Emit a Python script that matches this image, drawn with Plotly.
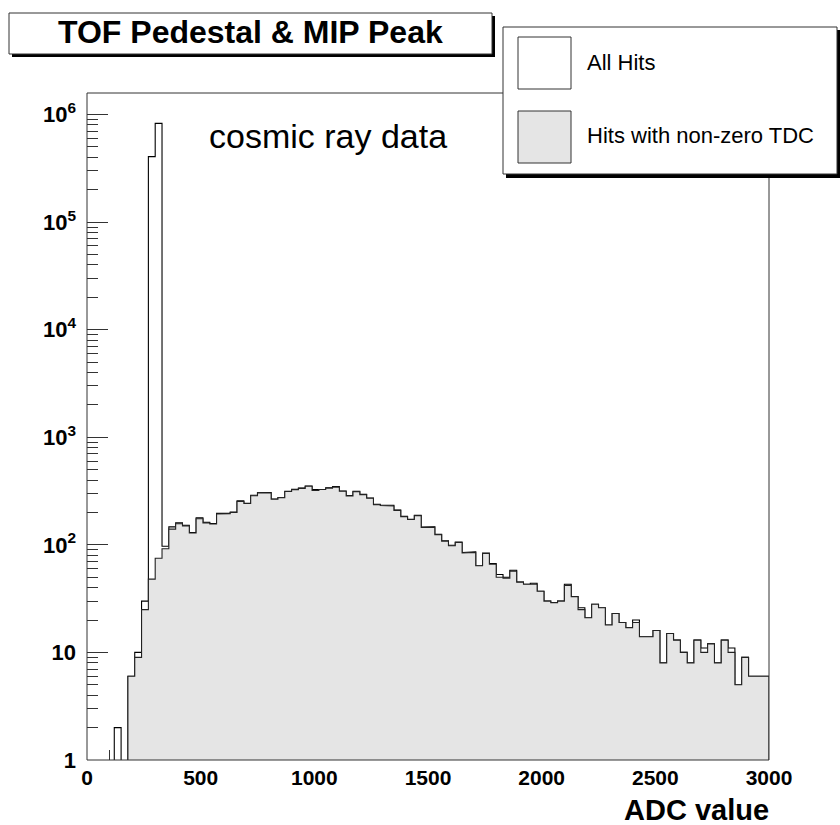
import plotly.graph_objects as go

# ---------------- data ----------------
BIN_WIDTH = 30
X_MIN, X_MAX = 0, 3000

# bin contents, bins of width 30 starting at 0 (100 bins)
all_hits = [
    0, 0, 0, 0, 2, 0, 6, 10, 30, 406000,
    827000, 97, 147, 160, 152, 130, 178, 162, 158, 196,
    196, 202, 256, 243, 289, 306, 306, 267, 275, 315,
    328, 337, 352, 326, 328, 339, 348, 316, 287, 314,
    295, 272, 238, 233, 233, 210, 184, 173, 188, 146,
    147, 125, 109, 99, 106, 85, 86, 64, 84, 67,
    53, 50, 58, 45, 43, 44, 37, 30, 29, 30,
    43, 33, 26, 21, 28, 26, 18, 23, 19, 17,
    20, 14, 14, 16, 8, 15, 13, 10, 8, 13,
    11, 12, 8, 13, 11, 5, 9, 6, 6, 6,
]
tdc_hits = [
    0, 0, 0, 0, 0, 0, 6, 9, 25, 48,
    75, 92, 140, 157, 150, 129, 175, 160, 156, 194,
    195, 200, 253, 242, 286, 305, 304, 265, 274, 313,
    326, 335, 350, 320, 327, 337, 344, 315, 285, 312,
    293, 271, 236, 232, 230, 209, 183, 172, 187, 145,
    146, 124, 108, 98, 105, 84, 85, 64, 83, 66,
    50, 49, 57, 45, 43, 43, 37, 30, 29, 30,
    42, 33, 25, 21, 28, 26, 18, 23, 19, 17,
    19, 14, 14, 16, 8, 15, 13, 10, 8, 13,
    10, 12, 8, 13, 10, 5, 9, 6, 6, 6,
]

x_tick_vals = [0, 500, 1000, 1500, 2000, 2500, 3000]
y_tick_vals = [1, 10, 100, 1000, 10000, 100000, 1000000]
y_tick_text = ["1", "10", "10<sup>2</sup>", "10<sup>3</sup>", "10<sup>4</sup>",
               "10<sup>5</sup>", "10<sup>6</sup>"]

TITLE = "TOF Pedestal & MIP Peak"
X_TITLE = "ADC value"
NOTE = "cosmic ray data"
LEG_NAMES = ["All Hits", "Hits with non-zero TDC"]

# ---------------- layout geometry ----------------
W, H = 840, 825
L, R, T, B = 87, 769, 93, 760
FONT = "Liberation Sans"
LINE = "#333333"
GREY = "#e5e5e5"


def px(x):
    return (x - L) / (R - L)


def py(y):
    return (B - y) / (B - T)


def step_path(values):
    floor = 0.1
    xs, ys = [X_MIN], [floor]
    for i, v in enumerate(values):
        lo = X_MIN + i * BIN_WIDTH
        hi = lo + BIN_WIDTH
        h = v if v > 0 else floor
        xs += [lo, hi]
        ys += [h, h]
    xs.append(X_MAX)
    ys.append(floor)
    return xs, ys


fig = go.Figure()
ax, ay = step_path(all_hits)
fig.add_trace(go.Scatter(x=ax, y=ay, mode="lines", fill="toself", fillcolor="white",
                         line=dict(color="#000000", width=1.1), name=LEG_NAMES[0],
                         hoverinfo="skip"))
gx, gy = step_path(tdc_hits)
fig.add_trace(go.Scatter(x=gx, y=gy, mode="lines", fill="toself", fillcolor=GREY,
                         line=dict(color="#222222", width=1.1), name=LEG_NAMES[1],
                         hoverinfo="skip"))

shapes = []
# plot frame
shapes.append(dict(type="rect", xref="paper", yref="paper", x0=0, x1=1, y0=0, y1=1,
                   line=dict(color=LINE, width=1), fillcolor="rgba(0,0,0,0)", layer="above"))
# title box with shadow
shapes.append(dict(type="rect", xref="paper", yref="paper", x0=px(12), x1=px(495),
                   y0=py(57), y1=py(16), line=dict(width=0), fillcolor="black", layer="above"))
shapes.append(dict(type="rect", xref="paper", yref="paper", x0=px(9), x1=px(492),
                   y0=py(54), y1=py(13), line=dict(color=LINE, width=1), fillcolor="white",
                   layer="above"))
# legend box with shadow
shapes.append(dict(type="rect", xref="paper", yref="paper", x0=px(506), x1=px(841),
                   y0=py(178), y1=py(30), line=dict(width=0), fillcolor="black", layer="above"))
shapes.append(dict(type="rect", xref="paper", yref="paper", x0=px(503), x1=px(837),
                   y0=py(174), y1=py(27), line=dict(color=LINE, width=1), fillcolor="white",
                   layer="above"))
# legend symbols
shapes.append(dict(type="rect", xref="paper", yref="paper", x0=px(518), x1=px(571),
                   y0=py(89), y1=py(37), line=dict(color=LINE, width=1), fillcolor="white",
                   layer="above"))
shapes.append(dict(type="rect", xref="paper", yref="paper", x0=px(518), x1=px(571),
                   y0=py(163), y1=py(111), line=dict(color=LINE, width=1), fillcolor=GREY,
                   layer="above"))

annotations = [
    dict(text=TITLE, xref="paper", yref="paper", x=px(250), y=py(32.5), xanchor="center",
         yanchor="middle", showarrow=False,
         font=dict(family=FONT, size=32, color="black", weight="bold")),
    dict(text=LEG_NAMES[0], xref="paper", yref="paper", x=px(585), y=py(62.5), xanchor="left",
         yanchor="middle", showarrow=False, font=dict(family=FONT, size=22, color="black")),
    dict(text=LEG_NAMES[1], xref="paper", yref="paper", x=px(585), y=py(136), xanchor="left",
         yanchor="middle", showarrow=False, font=dict(family=FONT, size=22, color="black")),
    dict(text=NOTE, xref="paper", yref="paper", x=px(207), y=py(136), xanchor="left",
         yanchor="middle", showarrow=False, font=dict(family=FONT, size=34, color="black")),
    dict(text=X_TITLE, xref="paper", yref="paper", x=px(770), y=py(810), xanchor="right",
         yanchor="middle", showarrow=False, height=30, borderpad=0,
         font=dict(family=FONT, size=29, color="black", weight="bold")),
]

y_minor = [k * 10 ** d for d in range(0, 7) for k in range(2, 10)]

fig.update_layout(
    width=W, height=H,
    margin=dict(l=L, r=W - R, t=T, b=H - B),
    paper_bgcolor="white", plot_bgcolor="white",
    showlegend=False,
    shapes=shapes,
    annotations=annotations,
    xaxis=dict(range=[X_MIN, X_MAX], tickvals=x_tick_vals, ticks="inside", ticklen=20,
               tickcolor=LINE, tickwidth=1, showgrid=False, zeroline=False, showline=False,
               layer="below traces", ticklabelstandoff=3,
               minor=dict(dtick=100, tick0=0, ticks="inside", ticklen=10, tickcolor=LINE,
                          showgrid=False),
               tickfont=dict(family=FONT, size=21, color="black", weight="bold")),
    yaxis=dict(type="log", range=[0, 6.2], tickvals=y_tick_vals, ticktext=y_tick_text,
               ticks="inside", ticklen=21, tickcolor=LINE, tickwidth=1, showgrid=False,
               zeroline=False, showline=False, layer="above traces", ticklabelstandoff=10,
               minor=dict(tickvals=y_minor, ticks="inside", ticklen=11, tickcolor=LINE,
                          showgrid=False),
               tickfont=dict(family=FONT, size=22, color="black", weight="bold")),
)

fig.write_html("out.html", config={"displayModeBar": False},
               post_script="document.body.style.margin='0';document.body.style.overflow='hidden';")
